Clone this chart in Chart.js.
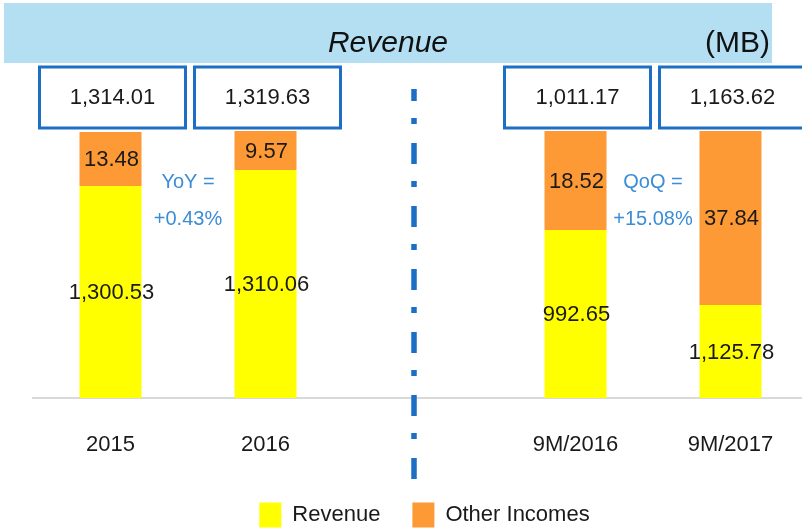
<!DOCTYPE html>
<html>
<head>
<meta charset="utf-8">
<script src="https://cdn.jsdelivr.net/npm/chart.js"></script>
<style>
  html, body { margin: 0; padding: 0; background: #fff; overflow: hidden; }
  #wrap { width: 810px; height: 529px; }
</style>
</head>
<body>
<div id="wrap"><canvas id="myChart" width="810" height="529"></canvas></div>
<script>
const categories = ['2015', '2016', '', '9M/2016', '9M/2017'];

// figures printed on the slide (MB)
const revenue = [1300.53, 1310.06, null, 992.65, 1125.78];
const otherIncomes = [13.48, 9.57, null, 18.52, 37.84];
const totals = [1314.01, 1319.63, null, 1011.17, 1163.62];

// the slide is not drawn to scale, so these are the segment heights as drawn
const revenueHeight = [212, 228, null, 168, 93];
const otherHeight = [54, 39, null, 99, 174];

const growthNotes = [
  { between: [0, 1], lines: ['YoY =', '+0.43%'] },
  { between: [3, 4], lines: ['QoQ =', '+15.08%'] }
];

const FONT = '"Liberation Sans", Arial, sans-serif';
const fmt = v => v.toLocaleString('en-US', { minimumFractionDigits: 2, maximumFractionDigits: 2 });

const decor = {
  id: 'decor',
  afterLayout(chart) {
    // legend sits a little right of centre on the slide
    chart.legend.left += 4;
    chart.legend.right += 4;
  },
  beforeDraw(chart) {
    const c = chart.ctx;
    c.save();
    c.fillStyle = '#b4def2';
    c.fillRect(4, 3, 768, 60);
    c.fillStyle = '#111';
    c.textBaseline = 'alphabetic';
    c.font = 'italic 30px ' + FONT;
    c.textAlign = 'center';
    c.fillText('Revenue', 388, 52);
    c.font = '30px ' + FONT;
    c.textAlign = 'left';
    c.fillText('(MB)', 705, 52);
    c.restore();
  },
  afterDatasetsDraw(chart) {
    const c = chart.ctx;
    c.save();
    c.textAlign = 'center';
    c.textBaseline = 'middle';
    c.font = '22px ' + FONT;
    c.fillStyle = '#1a1a1a';

    // numbers inside the segments
    const texts = [revenue, otherIncomes];
    chart.data.datasets.forEach((ds, d) => {
      chart.getDatasetMeta(d).data.forEach((bar, i) => {
        if (texts[d][i] == null) return;
        c.fillText(fmt(texts[d][i]), bar.x + 1, (bar.y + bar.base) / 2 + 1);
      });
    });

    // total boxes above the bars
    const bars = chart.getDatasetMeta(0).data;
    totals.forEach((t, i) => {
      if (t == null) return;
      const cx = bars[i].x + 2;
      c.strokeStyle = '#1c6fc4';
      c.lineWidth = 3;
      c.strokeRect(cx - 73, 67, 146, 61);
      c.fillStyle = '#1a1a1a';
      c.fillText(fmt(t), cx, 98);
    });

    // growth notes
    c.font = '20px ' + FONT;
    c.fillStyle = '#3a8dd6';
    growthNotes.forEach(n => {
      const x = (bars[n.between[0]].x + bars[n.between[1]].x) / 2;
      c.fillText(n.lines[0], x, 182);
      c.fillText(n.lines[1], x, 219);
    });

    // dash-dot divider
    c.strokeStyle = '#1c6fc4';
    c.lineWidth = 5.5;
    c.setLineDash([21, 17, 6, 19]);
    c.lineDashOffset = 9;
    c.beginPath();
    c.moveTo(414, 89);
    c.lineTo(414, 481);
    c.stroke();
    c.restore();
  }
};

new Chart(document.getElementById('myChart'), {
  type: 'bar',
  data: {
    labels: categories,
    datasets: [{
      label: 'Revenue',
      data: revenueHeight,
      backgroundColor: '#ffff00',
      borderWidth: 0,
      barPercentage: 0.4,
      categoryPercentage: 1
    }, {
      label: 'Other Incomes',
      data: otherHeight,
      backgroundColor: '#fe9a36',
      borderWidth: 0,
      barPercentage: 0.4,
      categoryPercentage: 1
    }]
  },
  options: {
    responsive: false,
    devicePixelRatio: 1,
    animation: false,
    layout: { padding: { top: 98, left: 33, right: 2, bottom: 0 } },
    plugins: {
      tooltip: { enabled: false },
      legend: {
        position: 'bottom',
        maxHeight: 58.5,
        labels: {
          boxWidth: 22,
          boxHeight: 25,
          padding: 32,
          color: '#1a1a1a',
          font: { size: 22, family: FONT }
        }
      }
    },
    scales: {
      x: {
        stacked: true,
        z: 1,
        grid: { display: false, drawTicks: false },
        border: { color: '#d9d9d9', width: 2 },
        ticks: { color: '#1a1a1a', padding: 34, font: { size: 22, family: FONT } },
        afterFit: s => { s.height = 72.5; }
      },
      y: {
        stacked: true,
        display: false,
        min: 0,
        max: 300
      }
    }
  },
  plugins: [decor]
});
</script>
</body>
</html>
